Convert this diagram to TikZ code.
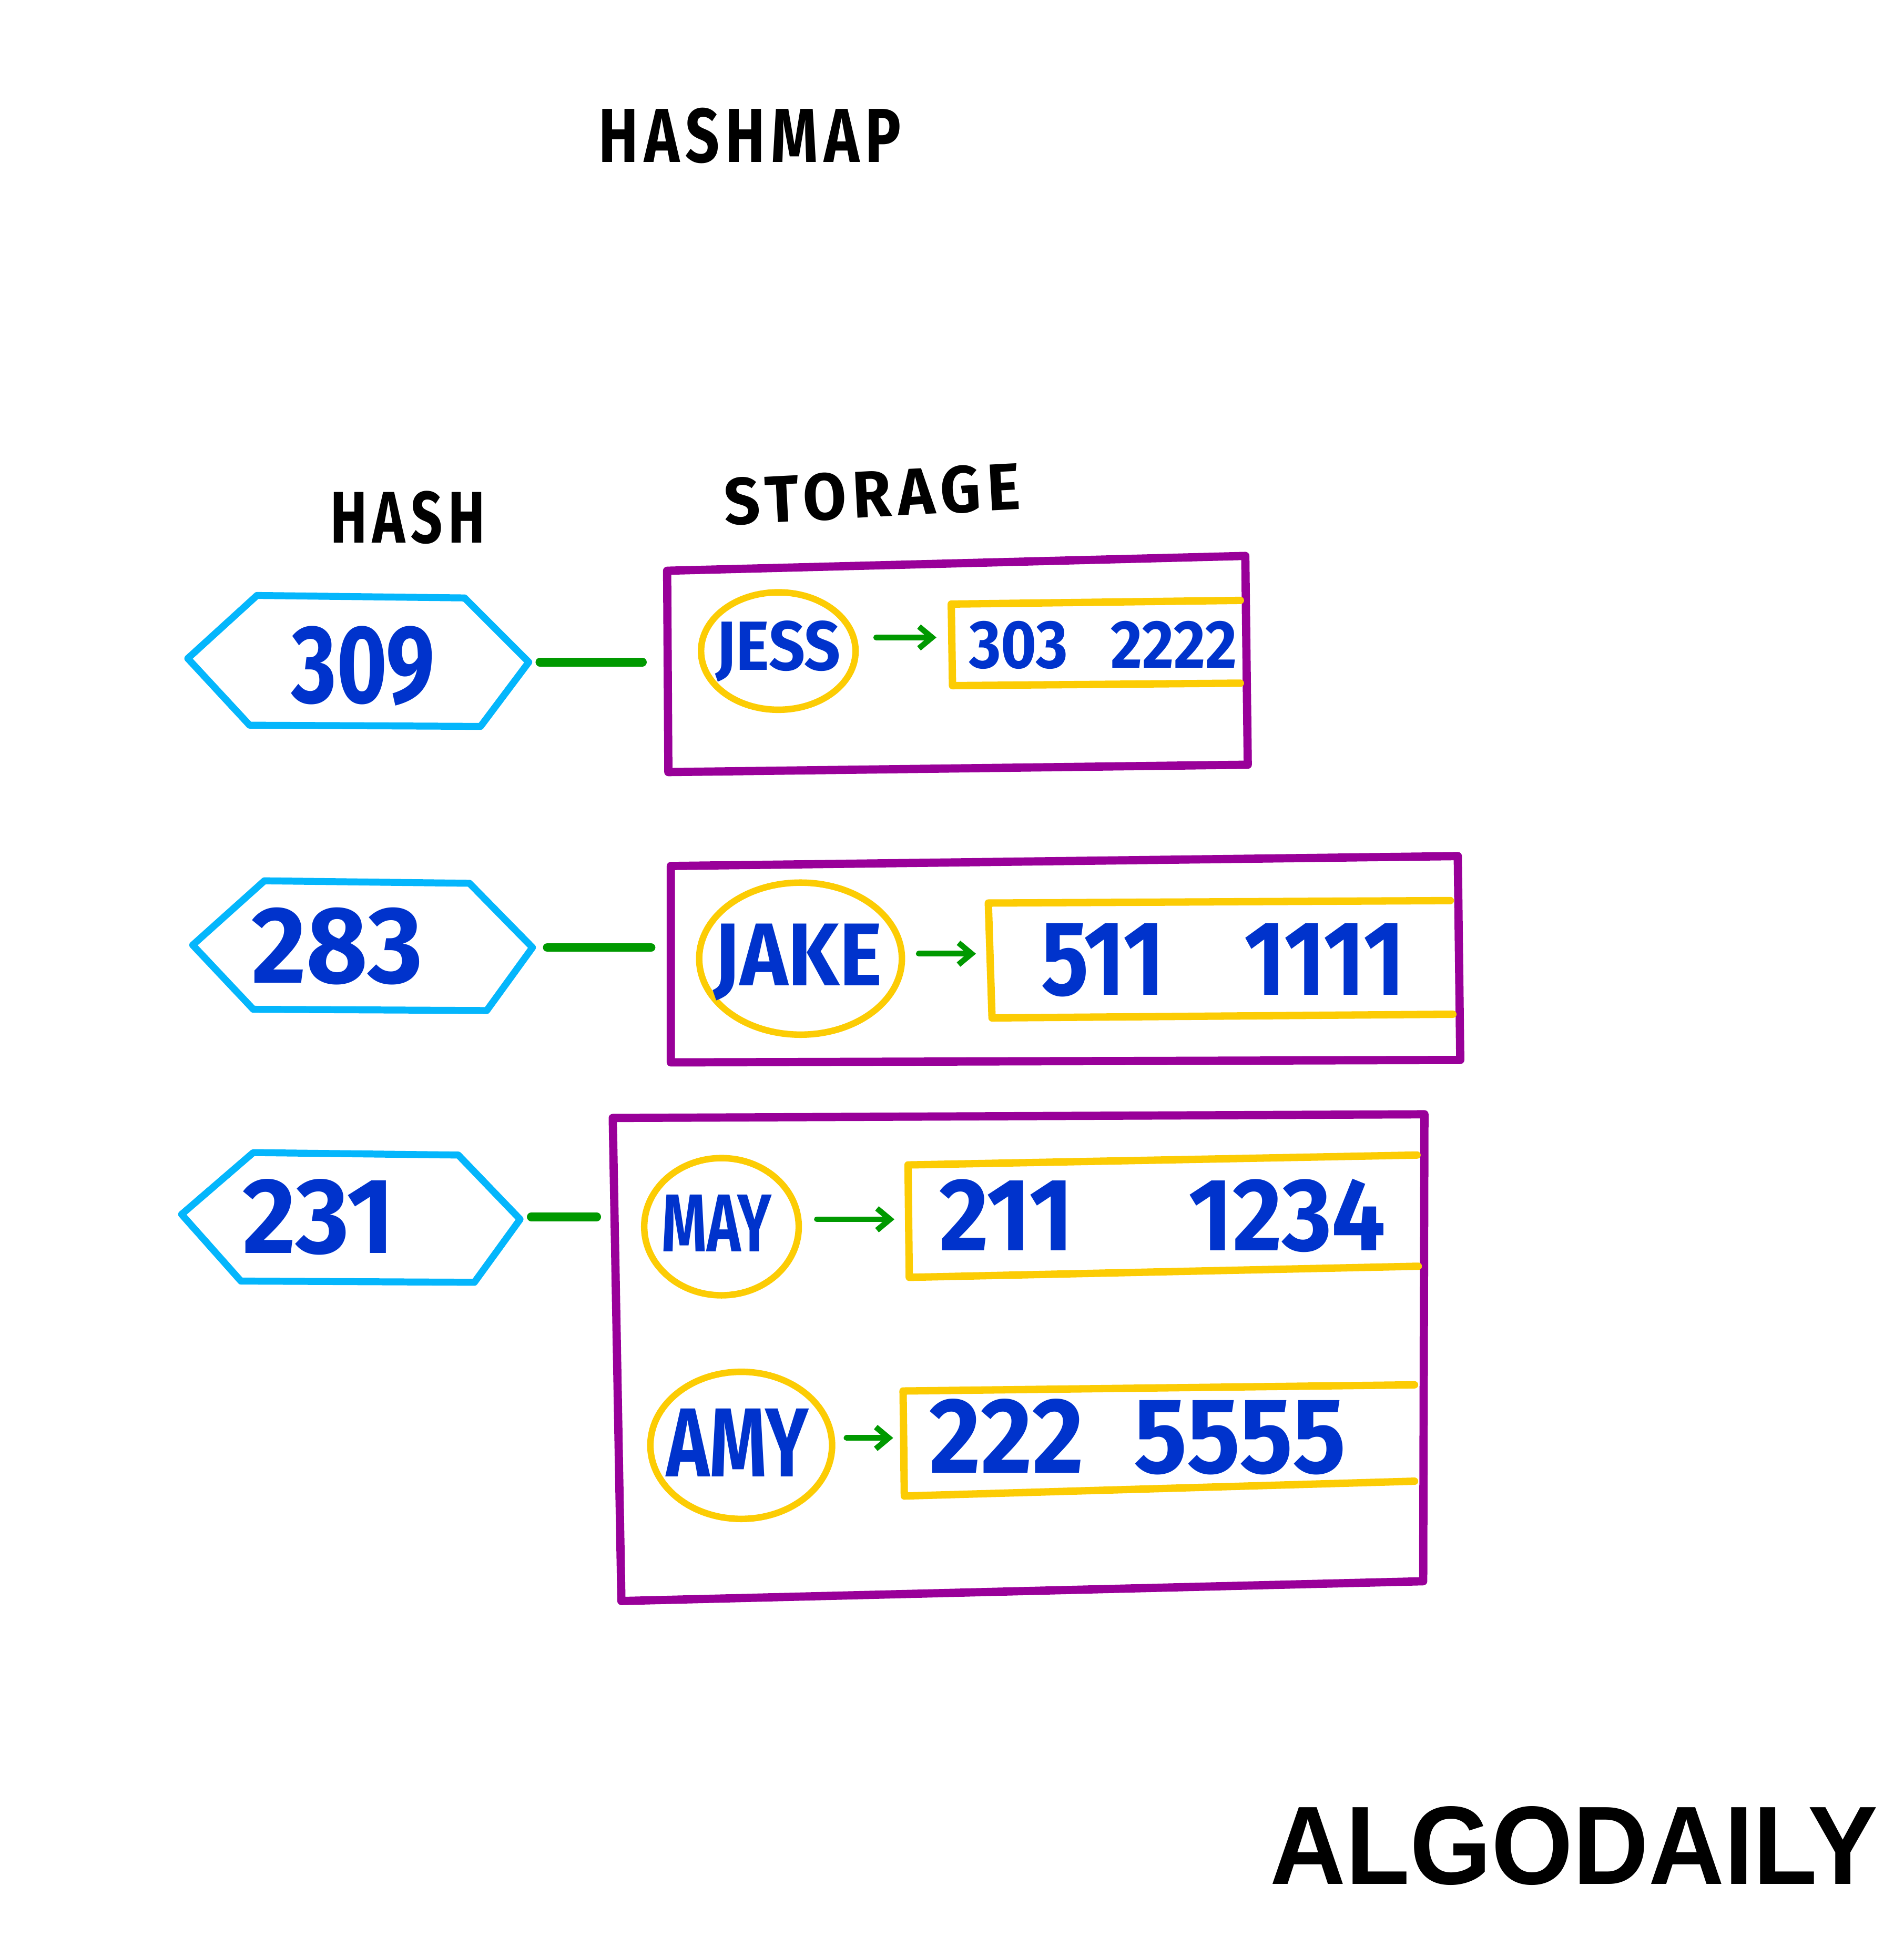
\documentclass[tikz,border=0pt]{standalone}
\usepackage{fontspec}
\setmainfont{Liberation Sans}
\newfontfamily\hand{Fira Sans}
\newfontfamily\handsp{Fira Sans}[LetterSpace=10]
\usetikzlibrary{shapes.geometric,arrows.meta}
\newdimen\pxu \pxu=0.01cm
\newcommand\fitx[3]{\resizebox{#1\pxu}{#2\pxu}{#3}}
\definecolor{hexblue}{RGB}{4,182,252}
\definecolor{tblue}{RGB}{0,51,204}
\definecolor{purp}{RGB}{153,0,153}
\definecolor{yel}{RGB}{252,204,4}
\definecolor{grn}{RGB}{0,153,0}
\begin{document}
\begin{tikzpicture}[x=0.01cm,y=-0.01cm,
  hexline/.style={draw=hexblue,line width=1.6pt,line join=round},
  boxline/.style={draw=purp,line width=1.9pt,line join=round,line cap=round},
  recline/.style={draw=yel,line width=1.7pt,line cap=round,line join=round},
  ring/.style={ellipse,draw=yel,line width=1.5pt,inner sep=0pt},
  link/.style={draw=grn,line width=2pt,line cap=round},
  ptr/.style={draw=grn,line width=1.3pt,line cap=round,-{Straight Barb[length=3pt,width=5pt]}},
  txt/.style={inner sep=0pt,outer sep=0pt,text=tblue,font=\hand\bfseries},
  head/.style={inner sep=0pt,outer sep=0pt,text=black,font=\handsp\bfseries}]

\useasboundingbox (0,0) rectangle (1541,1568);

% headings
\node[head] (title) at (607,110) {\fitx{245}{44}{HASHMAP}};
\node[head] (hashlbl) at (330,419) {\fitx{125}{42}{HASH}};
\node[head,rotate=3] (storlbl) at (706,400) {\fitx{240}{38}{STORAGE}};

% hash hexagons
\draw[hexline] (152,533) -- (208,482) -- (376,484) -- (428,536) -- (389,588) -- (202,587) -- cycle;
\draw[hexline] (156,765) -- (214,713) -- (380,715) -- (431,767) -- (394,818) -- (205,817) -- cycle;
\draw[hexline] (147,983) -- (205,933) -- (371,935) -- (421,987) -- (384,1038) -- (195,1037) -- cycle;
\coordinate (h1) at (428,536);
\coordinate (h2) at (431,767);
\coordinate (h3) at (421,985);
\node[txt] (k1) at (294,539) {\fitx{116}{62}{309}};
\node[txt] (k2) at (273,766) {\fitx{139}{61}{283}};
\node[txt] (k3) at (258,985) {\fitx{123}{60}{231}};

% storage boxes
\draw[boxline] (540,462) -- (1008,450) -- (1010,619) -- (541,625) -- cycle;
\draw[boxline] (543,701) -- (1180,693) -- (1182,858) -- (543,860) -- cycle;
\draw[boxline] (496,905) -- (1153,902) -- (1152,1280) -- (503,1296) -- cycle;
\coordinate (b1) at (539,536);
\coordinate (b2) at (543,767);
\coordinate (b3) at (497,985);

% hash -> storage links
\draw[link,shorten <=0.09cm,shorten >=0.19cm] (h1) -- (b1);
\draw[link,shorten <=0.12cm,shorten >=0.16cm] (h2) -- (b2);
\draw[link,shorten <=0.09cm,shorten >=0.14cm] (h3) -- (b3);

% key ellipses
\node[ring,minimum width=1.25cm,minimum height=0.95cm] (e1) at (630,527) {};
\node[ring,minimum width=1.64cm,minimum height=1.23cm] (e2) at (648,776) {};
\node[ring,minimum width=1.25cm,minimum height=1.11cm] (e3) at (584,993) {};
\node[ring,minimum width=1.47cm,minimum height=1.19cm] (e4) at (600,1170) {};
\node[txt] (n1) at (630,527) {\fitx{101}{40}{JESS}};
\node[txt] (n2) at (646,779) {\fitx{136}{50}{JAKE}};
\node[txt] (n3) at (580,990) {\fitx{89}{46}{MAY}};
\node[txt] (n4) at (597,1168) {\fitx{115}{55}{AMY}};

% value records (open on the right)
\draw[recline] (1004,486) -- (770,489) -- (771,555) -- (1004,553);
\draw[recline] (1174,729) -- (800,731) -- (803,824) -- (1176,821);
\draw[recline] (1147,935) -- (735,943) -- (736,1034) -- (1148,1025);
\draw[recline] (1145,1121) -- (731,1126) -- (732,1211) -- (1145,1199);
\coordinate (r1) at (769,516);
\coordinate (r2) at (800,772);
\coordinate (r3) at (735,987);
\coordinate (r4) at (731,1164);
\node[txt] (v1) at (893,522) {\fitx{217}{38}{303\hspace{0.7em}2222}};
\node[txt] (v2) at (990,777) {\fitx{294}{58}{511\hspace{0.9em}1111}};
\node[txt] (v3) at (941,984) {\fitx{361}{58}{211\hspace{1.2em}1234}};
\node[txt] (v4) at (921,1163) {\fitx{337}{60}{222\hspace{0.5em}5555}};

% key -> value pointers
\draw[ptr,shorten <=0.14cm,shorten >=0.11cm] (e1.east |- r1) -- (r1);
\draw[ptr,shorten <=0.11cm,shorten >=0.10cm] (e2.east |- r2) -- (r2);
\draw[ptr,shorten <=0.12cm,shorten >=0.11cm] (e3.east |- r3) -- (r3);
\draw[ptr,shorten <=0.09cm,shorten >=0.08cm] (e4.east |- r4) -- (r4);

% logo
\node[inner sep=0pt,font=\bfseries] (logo) at (1274,1494) {\fitx{492}{63}{ALGODAILY}};
\end{tikzpicture}
\end{document}
